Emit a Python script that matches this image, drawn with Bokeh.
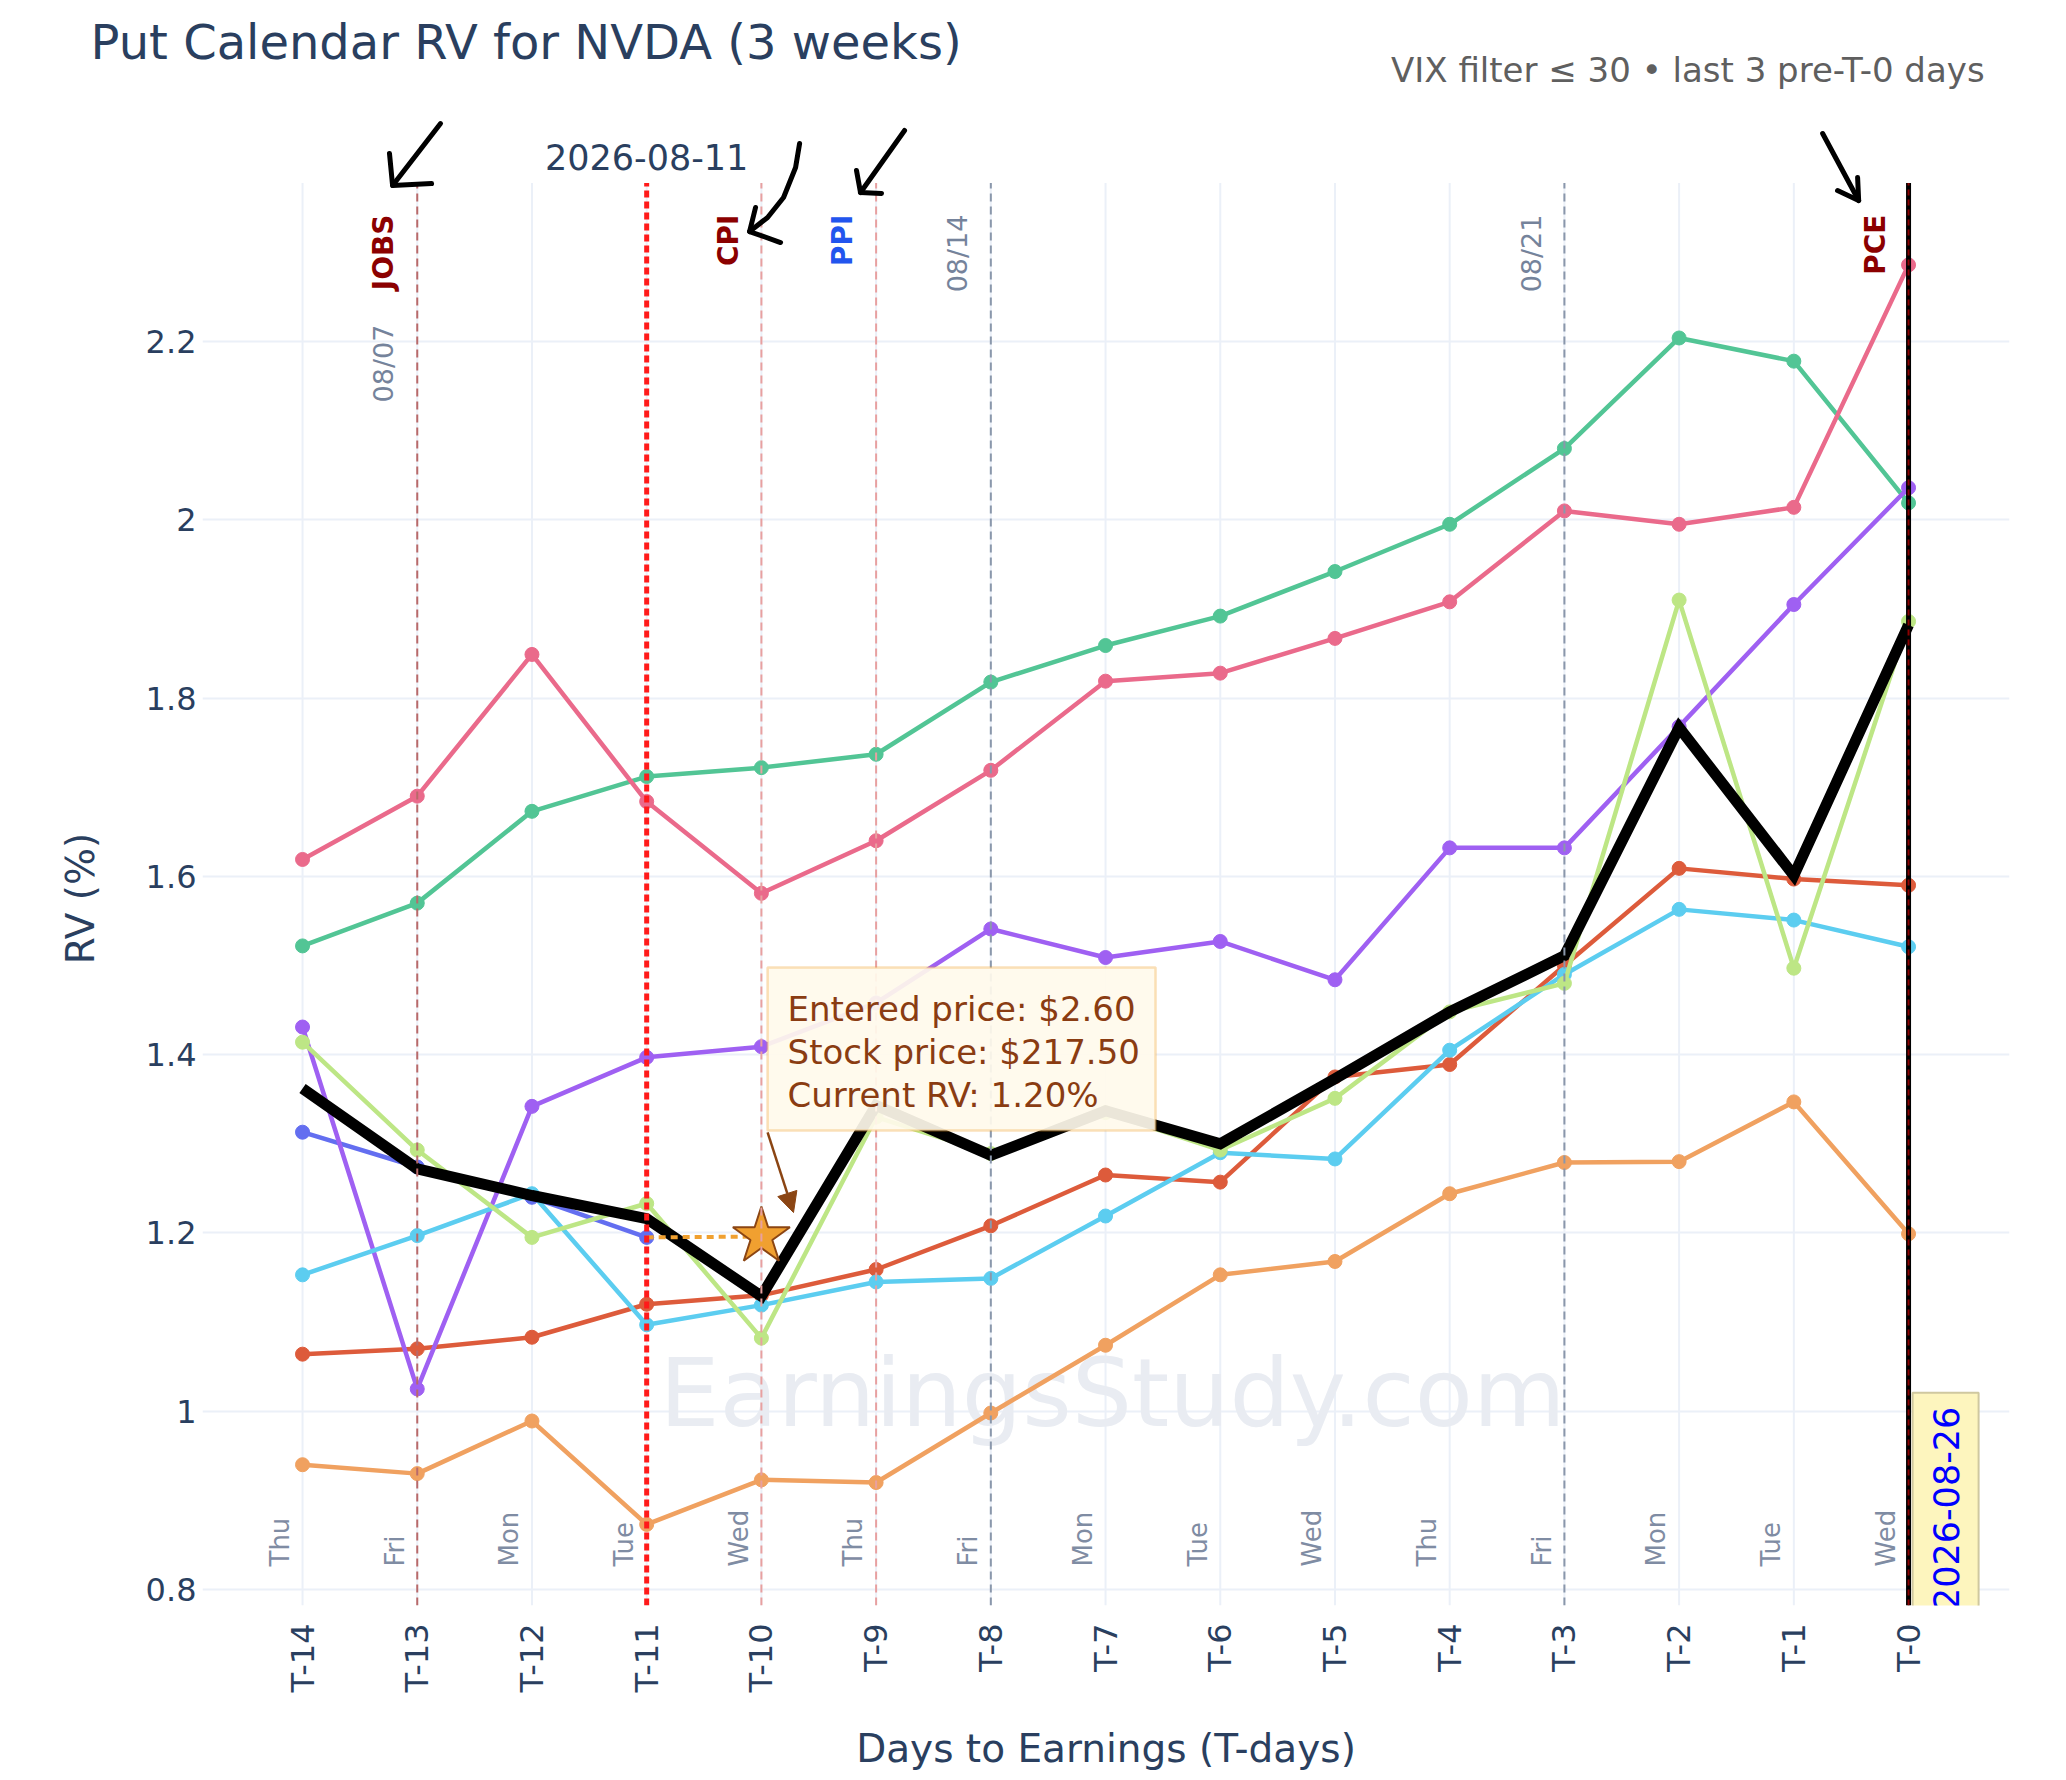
import math
from bokeh.plotting import figure
from bokeh.models import (Range1d, FixedTicker, NumeralTickFormatter, Label,
                          BoxAnnotation, Arrow, NormalHead)
from bokeh.embed import file_html
from bokeh.resources import INLINE

# ---------------- data ----------------
t_days = [-14, -13, -12, -11, -10, -9, -8, -7, -6, -5, -4, -3, -2, -1, 0]
tick_labels = ["T-14", "T-13", "T-12", "T-11", "T-10", "T-9", "T-8", "T-7",
               "T-6", "T-5", "T-4", "T-3", "T-2", "T-1", "T-0"]
weekdays = ["Thu", "Fri", "Mon", "Tue", "Wed", "Thu", "Fri", "Mon",
            "Tue", "Wed", "Thu", "Fri", "Mon", "Tue", "Wed"]

rv_current = [1.313, 1.274, 1.240, 1.195]          # partial (blue)
rv_red = [1.064, 1.070, 1.083, 1.120, 1.130, 1.159, 1.208, 1.265, 1.257, 1.375,
          1.389, 1.500, 1.609, 1.597, 1.590]
rv_green = [1.522, 1.570, 1.673, 1.712, 1.722, 1.737, 1.818, 1.859, 1.892, 1.942,
            1.995, 2.080, 2.204, 2.178, 2.019]
rv_purple = [1.431, 1.025, 1.342, 1.397, 1.409, 1.458, 1.541, 1.509, 1.527, 1.484,
             1.632, 1.632, 1.768, 1.905, 2.036]
rv_orange = [0.940, 0.930, 0.989, 0.873, 0.923, 0.920, 0.998, 1.074, 1.153, 1.168,
             1.244, 1.279, 1.280, 1.347, 1.199]
rv_cyan = [1.153, 1.197, 1.244, 1.097, 1.119, 1.145, 1.149, 1.219, 1.290, 1.283,
           1.405, 1.490, 1.563, 1.551, 1.521]
rv_pink = [1.619, 1.690, 1.849, 1.684, 1.581, 1.640, 1.719, 1.819, 1.828, 1.867,
           1.908, 2.010, 1.995, 2.014, 2.286]
rv_lightgreen = [1.414, 1.293, 1.195, 1.233, 1.082, 1.330, 1.289, 1.335, 1.293, 1.351,
                 1.448, 1.480, 1.910, 1.497, 1.886]
rv_average = [1.362, 1.272, 1.242, 1.216, 1.129, 1.343, 1.287, 1.337, 1.300, 1.373,
              1.448, 1.511, 1.767, 1.601, 1.882]

current_t = -10
current_rv = 1.196
entered_price = 2.60
stock_price = 217.50

y_ticks = [0.8, 1.0, 1.2, 1.4, 1.6, 1.8, 2.0, 2.2]

# event markers (T-day, label, label colour, line colour, dash, width)
events = [
    (-13, "JOBS", "#8b0000", "#b86a6a", "8 5", 2),
    (-10, "CPI", "#8b0000", "#e8a0a0", "8 5", 2),
    (-9, "PPI", "#2255ee", "#e8a0a0", "8 5", 2),
    (0, "PCE", "#8b0000", None, None, 0),
]
week_marks = [(-13, "08/07"), (-8, "08/14"), (-3, "08/21")]

FONT = "DejaVu Sans"
DARK = "#2a3f5f"

Y_LO, Y_HI = 0.78205, 2.4536      # plotted range (frame extends above the grid)
GRID_TOP = 2.378                  # where grid / reference lines stop

# ---------------- figure ----------------
p = figure(width=2060, height=1776,
           x_range=Range1d(-14.872, 0.880), y_range=Range1d(Y_LO, Y_HI),
           output_backend="svg", toolbar_location=None,
           min_border_left=202, min_border_right=51,
           min_border_top=115, min_border_bottom=171)
p.outline_line_color = None
p.background_fill_color = "white"
p.border_fill_color = "white"

p.xaxis.ticker = FixedTicker(ticks=t_days)
p.xaxis.major_label_overrides = {t: lab for t, lab in zip(t_days, tick_labels)}
p.xaxis.major_label_orientation = math.pi / 2
p.yaxis.ticker = FixedTicker(ticks=y_ticks)
p.yaxis.formatter = NumeralTickFormatter(format="0.[0]")
for ax in (p.xaxis, p.yaxis):
    ax.axis_line_color = None
    ax.major_tick_line_color = None
    ax.minor_tick_line_color = None
    ax.major_label_text_font = FONT
    ax.major_label_text_font_size = "32px"
    ax.major_label_text_color = DARK
    ax.axis_label_text_font = FONT
    ax.axis_label_text_font_size = "39px"
    ax.axis_label_text_color = DARK
    ax.axis_label_text_font_style = "normal"
p.xaxis.major_label_standoff = 12
p.yaxis.major_label_standoff = 0
p.xaxis.axis_label = "Days to Earnings (T-days)"
p.xaxis.axis_label_standoff = 31

p.xgrid.visible = False
p.ygrid.grid_line_color = "#ebf0f8"
p.ygrid.grid_line_width = 2
# vertical grid lines, stopping at the top of the grid area
p.segment(x0=t_days, y0=[Y_LO] * len(t_days), x1=t_days, y1=[GRID_TOP] * len(t_days),
          line_color="#ebf0f8", line_width=2, level="underlay")

# watermark
p.add_layout(Label(x=-6.94, y=1.021, text="EarningsStudy.com", text_align="center",
                   text_baseline="middle", text_font=FONT, text_font_size="95px",
                   text_color="#e9ecf2", level="underlay"))

# ---------------- series ----------------
series = [
    (rv_current, "#636ef0", t_days[:len(rv_current)]),
    (rv_red, "#dd5b3b", t_days),
    (rv_green, "#52c595", t_days),
    (rv_purple, "#9f60f2", t_days),
    (rv_orange, "#f0a160", t_days),
    (rv_cyan, "#5ccdf0", t_days),
    (rv_pink, "#ea6a8b", t_days),
    (rv_lightgreen, "#bde685", t_days),
]
for ys, col, xs in series:
    p.line(xs, ys, line_color=col, line_width=4.5)
    p.scatter(xs, ys, size=14, fill_color=col, line_color=col)

p.line(t_days, rv_average, line_color="black", line_width=11, line_join="miter")

# dotted link from last current point to the star
p.line([t_days[len(rv_current) - 1], current_t], [rv_current[-1], current_rv],
       line_color="#f0a030", line_width=4, line_dash="7 5")
p.scatter([current_t], [current_rv], marker="star", size=60,
          fill_color="#f0a030", line_color="#8b4513", line_width=2)

# ---------------- vertical reference lines ----------------
def vline(t, color, width, dash="solid"):
    p.segment(x0=[t], y0=[Y_LO], x1=[t], y1=[GRID_TOP], line_color=color,
              line_width=width, line_dash=dash)

for t, lab, lcol, linecol, dash, w in events:
    if linecol:
        vline(t, linecol, w, dash)
for t, lab in week_marks:
    if t != -13:
        vline(t, "#8a97ab", 2, "8 5")
vline(-11, "#ff1a1a", 5, "7 4")
vline(0, "black", 5)
vline(0, "#8b0000", 2, "6 4")

# event labels (rotated)
for t, lab, lcol, linecol, dash, w in events:
    p.add_layout(Label(x=t - 0.29, y=2.3425, text=lab, angle=math.pi / 2,
                       text_align="right", text_baseline="middle", text_font=FONT,
                       text_font_style="bold", text_font_size="28px", text_color=lcol))
for t, lab in week_marks:
    ytop = 2.219 if t == -13 else 2.3425
    p.add_layout(Label(x=t - 0.29, y=ytop, text=lab, angle=math.pi / 2,
                       text_align="right", text_baseline="middle", text_font=FONT,
                       text_font_size="27px", text_color="#75839b"))

# weekday labels
for t, wd in zip(t_days, weekdays):
    p.add_layout(Label(x=t - 0.198, y=0.8258, text=wd, angle=math.pi / 2,
                       text_align="left", text_baseline="middle", text_font=FONT,
                       text_font_size="26px", text_color="#7f8ca3"))

# date labels
p.add_layout(Label(x=-11, y=2.4067, text="2026-08-11", text_align="center",
                   text_baseline="alphabetic", text_font=FONT, text_font_size="35px",
                   text_color=DARK))
p.add_layout(Label(x=0.323, y=0.891, text="2026-08-26", angle=math.pi / 2,
                   text_align="center", text_baseline="middle", text_font=FONT,
                   text_font_size="35px", text_color="#0000ff",
                   background_fill_color="#fdf5be", background_fill_alpha=1.0,
                   border_line_color="#cfc8a0", border_line_width=2, padding=(14, 20)))

# info box
p.add_layout(BoxAnnotation(left=-9.946, right=-6.564, top=1.4979, bottom=1.3149,
                           fill_color="#fffaeb", fill_alpha=0.92,
                           line_color="#ee9a22", line_width=2.5))
info_lines = [f"Entered price: ${entered_price:.2f}",
              f"Stock price: ${stock_price:.2f}",
              f"Current RV: {current_rv:.2f}%"]
for i, txt in enumerate(info_lines):
    p.add_layout(Label(x=-9.772, y=1.4516 - i * 0.04825, text=txt,
                       text_align="left", text_baseline="alphabetic", text_font=FONT,
                       text_font_size="34px", text_color="#8a3c12"))
p.add_layout(Arrow(x_start=-9.946, y_start=1.3127, x_end=-9.72, y_end=1.2229,
                   line_color="#8b4513", line_width=2.5,
                   end=NormalHead(size=20, fill_color="#8b4513", line_color="#8b4513")))

# hand-drawn arrows (annotation strokes, polylines)
hand_strokes = [
    ([-12.797, -13.215], [2.4446, 2.3751]),
    ([-13.242, -13.215, -12.875], [2.4110, 2.3751, 2.3773]),
    ([-9.667, -9.702, -9.807, -9.946, -10.103], [2.4222, 2.3953, 2.3616, 2.3392, 2.3234]),
    ([-10.051, -10.103, -9.833], [2.3504, 2.3234, 2.3111]),
    ([-8.752, -9.136], [2.4368, 2.3672]),
    ([-9.171, -9.136, -8.953], [2.3919, 2.3672, 2.3661]),
    ([-0.749, -0.435], [2.4334, 2.3582]),
    ([-0.619, -0.435, -0.444], [2.3694, 2.3582, 2.3840]),
]
for xs, ys in hand_strokes:
    p.line(xs, ys, line_color="black", line_width=5, line_cap="round", line_join="round")

# title, subtitle and y-axis title (outside the frame, in side panels)
p.add_layout(Label(x=-15.848, y=2.5363, text="Put Calendar RV for NVDA (3 weeks)",
                   text_align="left", text_baseline="alphabetic", text_font=FONT,
                   text_font_size="48px", text_color=DARK), "above")
p.add_layout(Label(x=0.663, y=2.5041, text="VIX filter \u2264 30 \u2022 last 3 pre-T-0 days",
                   text_align="right", text_baseline="alphabetic", text_font=FONT,
                   text_font_size="34px", text_color="#5f5f5f"), "above")
p.add_layout(Label(x=-15.935, y=1.5752, text="RV (%)", angle=math.pi / 2,
                   text_align="center", text_baseline="middle", text_font=FONT,
                   text_font_size="39px", text_color=DARK), "left")

open("out.html", "w").write(file_html(p, INLINE))
